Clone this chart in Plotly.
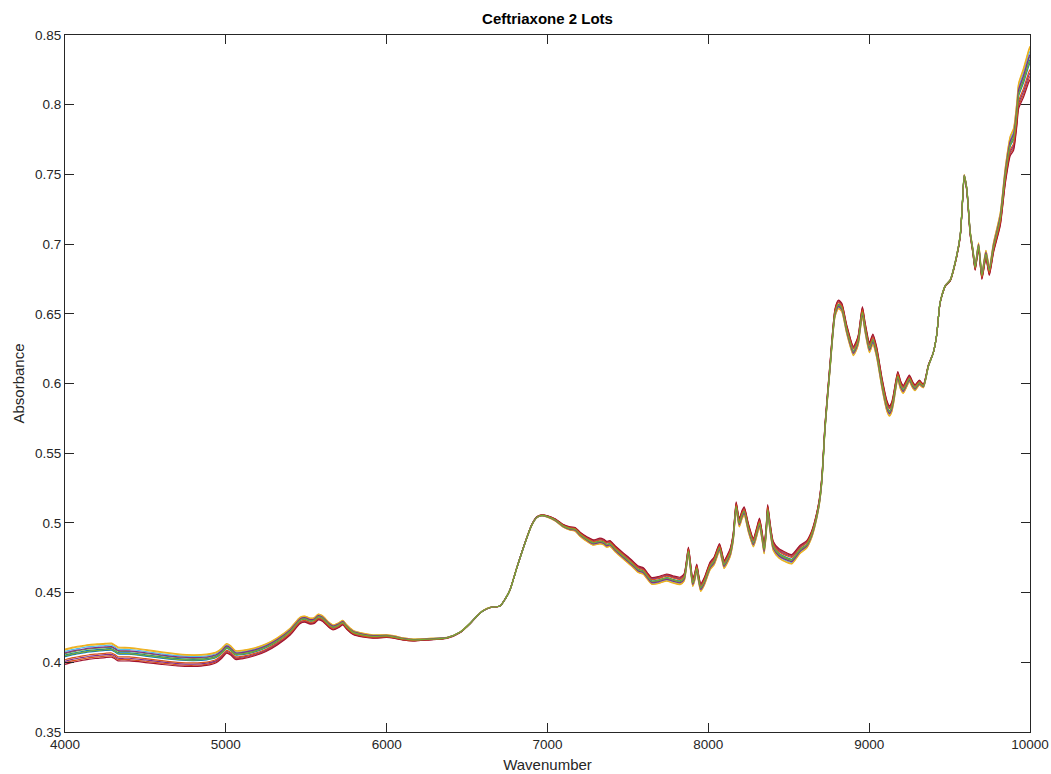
import numpy as np
import plotly.graph_objects as go

# Mean spectrum
wavenumber = [4000, 4050, 4100, 4150, 4200, 4250, 4290, 4310, 4330, 4400, 4500, 4600, 4700, 4800, 4880,
              4940, 4975, 5005, 5030, 5060, 5100, 5180, 5250, 5320, 5400, 5461, 5490, 5524, 5550, 5575,
              5600, 5640, 5667, 5700, 5727, 5750, 5791, 5850, 5915, 6000, 6050, 6100, 6164, 6250, 6374,
              6456, 6520, 6560, 6600, 6643, 6705, 6740, 6767, 6810, 6861, 6900, 6933, 6964, 7000, 7050,
              7099, 7140, 7172, 7203, 7250, 7285, 7326, 7350, 7368, 7388, 7420, 7471, 7520, 7565, 7596,
              7620, 7648, 7690, 7741, 7780, 7824, 7850, 7876, 7890, 7903, 7915, 7928, 7940, 7953, 7975,
              8011, 8036, 8069, 8085, 8098, 8120, 8136, 8155, 8173, 8185, 8193, 8210, 8223, 8250, 8280,
              8300, 8318, 8335, 8347, 8360, 8369, 8385, 8404, 8440, 8487, 8519, 8571, 8612, 8640, 8664,
              8690, 8706, 8726, 8757, 8788, 8809, 8830, 8860, 8902, 8920, 8933, 8945, 8958, 8975, 9002,
              9023, 9047, 9080, 9110, 9126, 9140, 9151, 9178, 9195, 9212, 9250, 9270, 9285, 9312, 9337,
              9368, 9399, 9420, 9441, 9473, 9504, 9535, 9566, 9580, 9591, 9607, 9628, 9645, 9659, 9680,
              9701, 9726, 9747, 9773, 9815, 9846, 9877, 9898, 9919, 9929, 9960, 9992, 10000]
absorbance = [0.4040, 0.4055, 0.4065, 0.4075, 0.4080, 0.4085, 0.4087, 0.4075, 0.4060, 0.4058, 0.4045,
              0.4030, 0.4017, 0.4012, 0.4018, 0.4035, 0.4065, 0.4100, 0.4085, 0.4052, 0.4055, 0.4075,
              0.4105, 0.4150, 0.4220, 0.4300, 0.4310, 0.4296, 0.4300, 0.4325, 0.4315, 0.4270, 0.4250,
              0.4265, 0.4285, 0.4255, 0.4215, 0.4195, 0.4185, 0.4188, 0.4180, 0.4168, 0.4160, 0.4165,
              0.4175, 0.4215, 0.4280, 0.4330, 0.4370, 0.4393, 0.4404, 0.4460, 0.4520, 0.4680, 0.4859,
              0.4980, 0.5040, 0.5054, 0.5046, 0.5020, 0.4978, 0.4960, 0.4954, 0.4918, 0.4880, 0.4859,
              0.4870, 0.4862, 0.4846, 0.4852, 0.4815, 0.4763, 0.4715, 0.4667, 0.4655, 0.4620, 0.4584,
              0.4590, 0.4608, 0.4595, 0.4584, 0.4610, 0.4800, 0.4680, 0.4571, 0.4610, 0.4678, 0.4600,
              0.4536, 0.4580, 0.4691, 0.4727, 0.4823, 0.4760, 0.4702, 0.4745, 0.4787, 0.4900, 0.5121,
              0.5040, 0.5002, 0.5060, 0.5085, 0.4960, 0.4859, 0.4930, 0.5002, 0.4900, 0.4811, 0.4950,
              0.5098, 0.4960, 0.4834, 0.4780, 0.4751, 0.4739, 0.4811, 0.4846, 0.4910, 0.5002, 0.5150,
              0.5313, 0.5695, 0.6126, 0.6509, 0.6568, 0.6545, 0.6390, 0.6233, 0.6270, 0.6317, 0.6420,
              0.6516, 0.6400, 0.6258, 0.6317, 0.6222, 0.6000, 0.5840, 0.5803, 0.5830, 0.5887, 0.6054,
              0.5990, 0.5958, 0.6035, 0.5990, 0.5970, 0.6006, 0.5982, 0.6126, 0.6222, 0.6350, 0.6580,
              0.6700, 0.6740, 0.6867, 0.7058, 0.7300, 0.7489, 0.7393, 0.7082, 0.6950, 0.6831, 0.6987,
              0.6772, 0.6927, 0.6807, 0.6975, 0.7178, 0.7489, 0.7704, 0.7752, 0.7943, 0.8062, 0.8159,
              0.8278, 0.8300]

# Spread of the sample spectra around the mean (half-width)
spread_wn = [4000, 4900, 5100, 5600, 6000, 6400, 6700, 7000, 7300, 7700, 8200, 8500, 8700, 8800, 9100,
             9300, 9400, 9600, 9800, 9950, 10000]
spread_val = [0.0055, 0.0040, 0.0030, 0.0020, 0.0010, 0.0003, 0.0, -0.0005, -0.0020, -0.0025, -0.0030,
              -0.0035, -0.0020, -0.0030, -0.0040, -0.0020, 0.0, 0.0010, 0.0040, 0.0100, 0.0120]

# Relative position of each sample inside the band
sample_pos = [0.2, -0.8, 1.0, -0.6, 0.4, 0.7, -1.0, 0.0, -0.4, 0.9, 0.5, 0.1]

colors = ["#0072BD", "#D95319", "#EDB120", "#7E2F8E", "#77AC30", "#4DBEEE", "#A2142F"]

yticks = [0.35, 0.4, 0.45, 0.5, 0.55, 0.6, 0.65, 0.7, 0.75, 0.8, 0.85]
yticktext = ["0.35", "0.4", "0.45", "0.5", "0.55", "0.6", "0.65", "0.7", "0.75", "0.8", "0.85"]
xticks = [4000, 5000, 6000, 7000, 8000, 9000, 10000]

wn = np.array(wavenumber, dtype=float)
base = np.array(absorbance)
profile = np.interp(wn, spread_wn, spread_val)

fig = go.Figure()
for i, p in enumerate(sample_pos):
    fig.add_trace(go.Scatter(x=wn, y=base + p * profile, mode="lines",
                             line=dict(color=colors[i % len(colors)], width=1.2, shape="spline", smoothing=0.6),
                             showlegend=False, hoverinfo="skip"))

axis_col = "#262626"
font = "Liberation Sans, Arial, Helvetica, sans-serif"
fig.update_layout(
    width=1051, height=774,
    paper_bgcolor="white", plot_bgcolor="white",
    margin=dict(l=65, r=21, t=35, b=42, autoexpand=False),
    title=dict(text="<b>Ceftriaxone 2 Lots</b>", x=0.5, xref="paper", xanchor="center",
               y=1, yref="container", yanchor="top", pad=dict(t=13),
               font=dict(family=font, size=15, color="#000000")),
    font=dict(family=font, color=axis_col),
)
fig.update_xaxes(range=[4000, 10000], tickvals=xticks, ticktext=[str(t) for t in xticks],
                 automargin=False,
                 showline=True, linecolor=axis_col, linewidth=1, mirror="ticks",
                 ticks="inside", ticklen=9, tickcolor=axis_col, showgrid=False, zeroline=False,
                 tickfont=dict(size=13.5, color=axis_col),
                 title=dict(text="Wavenumber", font=dict(size=15, color=axis_col), standoff=8))
fig.update_yaxes(range=[0.35, 0.85], tickvals=yticks, ticktext=yticktext,
                 automargin=False,
                 showline=True, linecolor=axis_col, linewidth=1, mirror="ticks",
                 ticks="inside", ticklen=9, tickcolor=axis_col, showgrid=False, zeroline=False,
                 tickfont=dict(size=13.5, color=axis_col),
                 title=dict(text="Absorbance", font=dict(size=15, color=axis_col), standoff=6))

fig.write_html("out.html", config={"displayModeBar": False},
               post_script="document.body.style.margin='0';document.body.style.overflow='hidden';")
